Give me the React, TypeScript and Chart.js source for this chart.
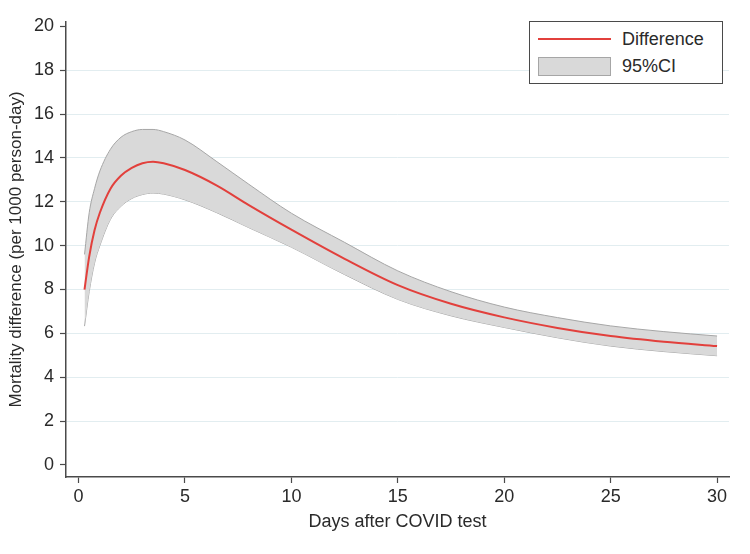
import React, { useEffect, useRef } from 'react';
import { Chart, registerables } from 'chart.js';

Chart.register(...registerables);

const days = [0.28, 0.5, 0.75, 1.0, 1.5, 2.0, 2.5, 3.0, 3.5, 4.0, 5.0, 6.5, 8.0, 10, 12.5, 15, 17.5, 20, 22.5, 25, 27.5, 30];
const difference = [8.0, 9.5, 10.7, 11.5, 12.6, 13.2, 13.55, 13.76, 13.83, 13.76, 13.45, 12.74, 11.85, 10.73, 9.4, 8.2, 7.35, 6.73, 6.25, 5.88, 5.62, 5.42];
const upperCI = [9.6, 11.5, 12.6, 13.4, 14.4, 14.95, 15.2, 15.3, 15.3, 15.2, 14.82, 13.83, 12.8, 11.48, 10.15, 8.85, 7.9, 7.2, 6.72, 6.34, 6.08, 5.88];
const lowerCI = [6.33, 7.9, 9.2, 10.0, 11.2, 11.8, 12.15, 12.33, 12.4, 12.35, 12.09, 11.5, 10.82, 9.93, 8.68, 7.55, 6.8, 6.27, 5.8, 5.42, 5.17, 4.98];
const xTicks = [0, 5, 10, 15, 20, 25, 30];
const yTicks = [0, 2, 4, 6, 8, 10, 12, 14, 16, 18, 20];

const seriesLabel = 'Difference';
const ciLabel = '95%CI';
const xTitle = 'Days after COVID test';
const yTitle = 'Mortality difference (per 1000 person-day)';

const FONT = '"Liberation Sans", Arial, Helvetica, sans-serif';
const TEXT = '#2a2a2a';
const AXIS = '#4a4a4a';
const RED = '#e2403c';
const BAND = '#d9d9d9';
const BAND_EDGE = '#a6a6a6';

export default function App() {
  const ref = useRef<HTMLCanvasElement | null>(null);

  useEffect(() => {
    if (!ref.current) return;
    const pts = (ys: number[]) => days.map((d, i) => ({ x: d, y: ys[i] }));
    const chart = new Chart(ref.current, {
      type: 'line',
      data: {
        datasets: [
          {
            label: 'upper',
            data: pts(upperCI),
            borderColor: BAND_EDGE,
            borderWidth: 1,
            backgroundColor: BAND,
            fill: '+1',
            pointRadius: 0,
            cubicInterpolationMode: 'monotone',
            order: 2,
          },
          {
            label: 'lower',
            data: pts(lowerCI),
            borderColor: BAND_EDGE,
            borderWidth: 1,
            backgroundColor: BAND,
            fill: false,
            pointRadius: 0,
            cubicInterpolationMode: 'monotone',
            order: 3,
          },
          {
            label: seriesLabel,
            data: pts(difference),
            borderColor: RED,
            borderWidth: 2,
            fill: false,
            pointRadius: 0,
            cubicInterpolationMode: 'monotone',
            order: 1,
          },
        ],
      },
      options: {
        responsive: false,
        animation: false,
        events: [],
        layout: { padding: { top: 22, right: 21, left: 0, bottom: 0 } },
        plugins: {
          legend: { display: false },
          tooltip: { enabled: false },
        },
        scales: {
          x: {
            type: 'linear',
            min: -0.59,
            max: 30.56,
            afterBuildTicks: (s: any) => {
              s.ticks = xTicks.map((v) => ({ value: v }));
            },
            afterFit: (s: any) => {
              s.height = 77;
            },
            ticks: {
              font: { family: FONT, size: 18 },
              color: TEXT,
              padding: 3,
              maxRotation: 0,
              autoSkip: false,
            },
            grid: {
              drawOnChartArea: false,
              tickLength: 6,
              tickColor: AXIS,
              tickWidth: 1.2,
            },
            border: { color: AXIS, width: 1.5 },
            title: {
              display: true,
              text: xTitle,
              font: { family: FONT, size: 18 },
              color: TEXT,
              padding: { top: 0, bottom: 21 },
            },
          },
          y: {
            type: 'linear',
            min: -0.55,
            max: 20.2,
            afterBuildTicks: (s: any) => {
              s.ticks = yTicks.map((v) => ({ value: v }));
            },
            afterFit: (s: any) => {
              s.width = 66;
            },
            ticks: {
              font: { family: FONT, size: 18 },
              color: TEXT,
              padding: 6,
            },
            grid: {
              color: (ctx: any) =>
                ctx.tick && (ctx.tick.value === 0 || ctx.tick.value === 20) ? 'rgba(0,0,0,0)' : '#e2edf0',
              lineWidth: 1,
              tickLength: 6,
              tickColor: AXIS,
              tickWidth: 1.2,
            },
            border: { color: AXIS, width: 1.5 },
            title: {
              display: true,
              text: yTitle,
              font: { family: FONT, size: 17 },
              color: TEXT,
              padding: { top: 6, bottom: 0 },
            },
          },
        },
      },
    } as any);
    return () => chart.destroy();
  }, []);

  return (
    <div style={{ position: 'fixed', left: 0, top: 0, width: 750, height: 554, background: '#fff' }}>
      <canvas ref={ref} width={750} height={554} style={{ position: 'absolute', left: 0, top: 0, width: 750, height: 554 }} />
      <div
        style={{
          position: 'absolute',
          left: 529,
          top: 21,
          width: 194,
          height: 63,
          boxSizing: 'border-box',
          border: `1.5px solid ${AXIS}`,
          background: '#fff',
          fontFamily: FONT,
          fontSize: 18,
          color: TEXT,
        }}
      >
        <div style={{ position: 'absolute', left: 8, top: 16, width: 73, height: 2, background: RED }} />
        <div style={{ position: 'absolute', left: 92, top: 6, lineHeight: '22px', whiteSpace: 'nowrap' }}>{seriesLabel}</div>
        <div
          style={{
            position: 'absolute',
            left: 8,
            top: 35,
            width: 73,
            height: 19,
            boxSizing: 'border-box',
            background: BAND,
            border: `1px solid ${BAND_EDGE}`,
          }}
        />
        <div style={{ position: 'absolute', left: 92, top: 33, lineHeight: '22px', whiteSpace: 'nowrap' }}>{ciLabel}</div>
      </div>
    </div>
  );
}
